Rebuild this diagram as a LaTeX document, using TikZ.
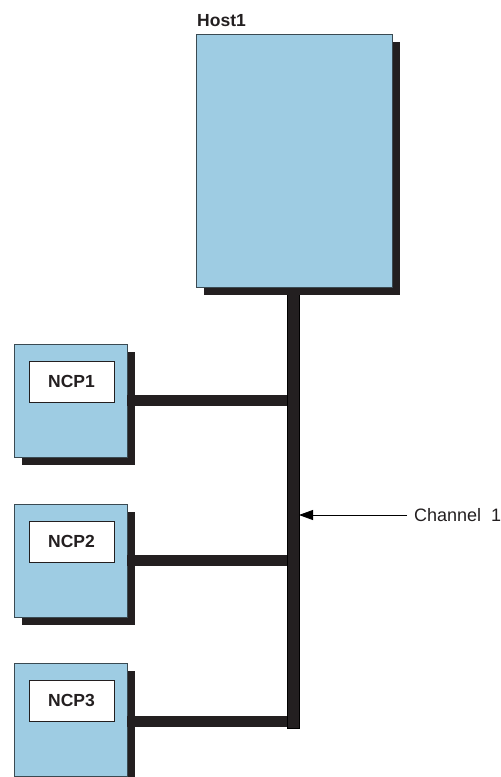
\documentclass[tikz,border=0pt]{standalone}
\usepackage{fontspec}
\setmainfont{Liberation Sans}
\usetikzlibrary{shadows,arrows.meta}
\definecolor{boxblue}{HTML}{9ECCE3}
\definecolor{shadowc}{HTML}{231F20}
\definecolor{edgec}{HTML}{3A4A52}
\begin{document}
\begin{tikzpicture}[x=1pt,y=-1pt,
  bluebox/.style={draw=edgec, line width=0.7pt, fill=boxblue, inner sep=0pt, outer sep=0pt,
    drop shadow={shadow xshift=7.5pt, shadow yshift=-7.5pt, fill=shadowc, opacity=1}},
  labelbox/.style={draw=shadowc, line width=0.9pt, fill=white, inner sep=0pt, outer sep=0pt,
    minimum width=85pt, minimum height=41pt, font=\fontsize{17.5}{20}\selectfont\bfseries, text=shadowc},
  chanbar/.style={fill=shadowc, draw=black, line width=0.4pt, inner sep=0pt, outer sep=0pt},
  hbar/.style={draw=shadowc, line width=11pt},
  pointer/.style={draw=black, line width=0.8pt, -{Triangle[length=14pt,width=10pt]}}
]
\useasboundingbox (0,0) rectangle (501,777);
% channel bar
\node[chanbar, minimum width=12pt, minimum height=441pt] (chan) at (293,507.5) {};
% host
\node[bluebox, minimum width=196pt, minimum height=253pt] (host) at (294,160.5) {};
\node[anchor=base west, font=\fontsize{17.5}{20}\selectfont\bfseries, text=shadowc, inner sep=0pt] (hostlbl) at (197,26) {Host1};
% NCPs
\node[bluebox, minimum width=113pt, minimum height=113pt] (ncp1) at (70.5,400.5) {};
\node[labelbox] (ncp1l) at (71.5,381.5) {NCP1};
\node[bluebox, minimum width=113pt, minimum height=113pt] (ncp2) at (70.5,560.5) {};
\node[labelbox] (ncp2l) at (71.5,541.5) {NCP2};
\node[bluebox, minimum width=113pt, minimum height=113pt] (ncp3) at (70.5,719.5) {};
\node[labelbox] (ncp3l) at (71.5,700.5) {NCP3};
% horizontal bars
\draw[hbar] (ncp1.east) -- (ncp1.east -| chan.west);
\draw[hbar] (ncp2.east) -- (ncp2.east -| chan.west);
\draw[hbar] ([yshift=-2pt]ncp3.east) -- ([yshift=-2pt]ncp3.east -| chan.west);
% channel label
\node[anchor=west, font=\fontsize{18}{20}\selectfont, text=shadowc, inner sep=0pt] (chlbl) at (414,515) {Channel\ \ 1};
\draw[pointer] (chlbl.west) ++(-7,0) coordinate (ptail) (ptail) -- (ptail -| chan.east);
\end{tikzpicture}
\end{document}
